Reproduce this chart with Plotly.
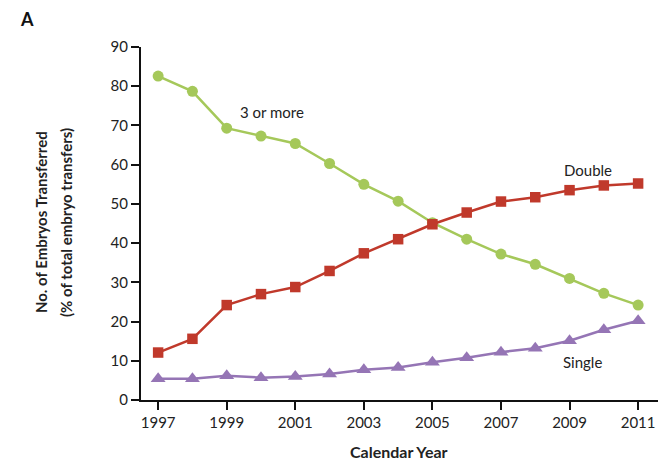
import plotly.graph_objects as go

# Calendar years and share of embryo transfers by number of embryos (%)
years = list(range(1997, 2012))
three_or_more = [82.6, 78.7, 69.3, 67.3, 65.4, 60.3, 55.0, 50.7, 45.2, 41.0, 37.2, 34.6, 31.0, 27.2, 24.2]
double = [12.1, 15.6, 24.2, 27.0, 28.8, 32.9, 37.4, 41.0, 44.8, 47.8, 50.6, 51.7, 53.5, 54.7, 55.2]
single = [5.4, 5.4, 6.2, 5.7, 6.0, 6.6, 7.7, 8.3, 9.6, 10.8, 12.2, 13.2, 15.1, 17.9, 20.2]

x_ticks = [1997, 1999, 2001, 2003, 2005, 2007, 2009, 2011]
y_ticks = [0, 10, 20, 30, 40, 50, 60, 70, 80, 90]

GREEN = "#a5c85a"
RED = "#c0392b"
PURPLE = "#9575b5"
TEXT = "#222222"
FONT = "Lato, 'Open Sans', sans-serif"

fig = go.Figure()
fig.add_trace(go.Scatter(
    x=years, y=three_or_more, mode="lines+markers", name="3 or more",
    line=dict(color=GREEN, width=2.5),
    marker=dict(symbol="circle", size=11, color=GREEN),
))
fig.add_trace(go.Scatter(
    x=years, y=double, mode="lines+markers", name="Double",
    line=dict(color=RED, width=2.5),
    marker=dict(symbol="square", size=10.5, color=RED),
))
fig.add_trace(go.Scatter(
    x=years, y=single, mode="lines+markers", name="Single",
    line=dict(color=PURPLE, width=2.5),
    marker=dict(symbol="triangle-up", size=13, color=PURPLE),
))

annotations = [
    dict(x=2000.32, y=73.4, xref="x", yref="y", text="3 or more", showarrow=False,
         font=dict(size=15, color=TEXT, family=FONT)),
    dict(x=2009.54, y=58.6, xref="x", yref="y", text="Double", showarrow=False,
         font=dict(size=15, color=TEXT, family=FONT)),
    dict(x=2009.39, y=9.8, xref="x", yref="y", text="Single", showarrow=False,
         font=dict(size=15, color=TEXT, family=FONT)),
    dict(x=-0.2379, y=1.0807, xref="paper", yref="paper", text="<b>A</b>", showarrow=False,
         xanchor="left", yanchor="middle", font=dict(size=18, color="#111111", family=FONT)),
    dict(x=-0.1934, y=0.504, xref="paper", yref="paper", text="<b>No. of Embryos Transferred</b>",
         showarrow=False, textangle=-90, xanchor="center", yanchor="middle",
         font=dict(size=15, color=TEXT, family=FONT)),
    dict(x=-0.1451, y=0.504, xref="paper", yref="paper", text="<b>(% of total embryo transfers)</b>",
         showarrow=False, textangle=-90, xanchor="center", yanchor="middle",
         font=dict(size=15, color=TEXT, family=FONT)),
    dict(x=0.499, y=-0.1473, xref="paper", yref="paper", text="<b>Calendar Year</b>",
         showarrow=False, xanchor="center", yanchor="middle",
         font=dict(size=16, color=TEXT, family=FONT)),
]

fig.update_layout(
    width=667, height=460,
    margin=dict(l=141, r=9, t=47, b=60),
    paper_bgcolor="white", plot_bgcolor="white",
    showlegend=False,
    font=dict(family=FONT, color=TEXT, size=15),
    annotations=annotations,
    xaxis=dict(
        range=[1996.5, 2011.58], tickmode="array", tickvals=x_ticks,
        ticktext=[str(v) for v in x_ticks],
        showgrid=False, zeroline=False, showline=True, linecolor="#111111", linewidth=2,
        ticks="outside", ticklen=8, tickwidth=2, tickcolor="#111111",
        tickfont=dict(size=15, color=TEXT, family=FONT),
    ),
    yaxis=dict(
        range=[0, 90], tickmode="array", tickvals=y_ticks,
        showgrid=False, zeroline=False, showline=True, linecolor="#111111", linewidth=2,
        ticks="outside", ticklen=8, tickwidth=1.5, tickcolor="#111111",
        tickfont=dict(size=15, color=TEXT, family=FONT),
    ),
)

fig.write_html("out.html")
